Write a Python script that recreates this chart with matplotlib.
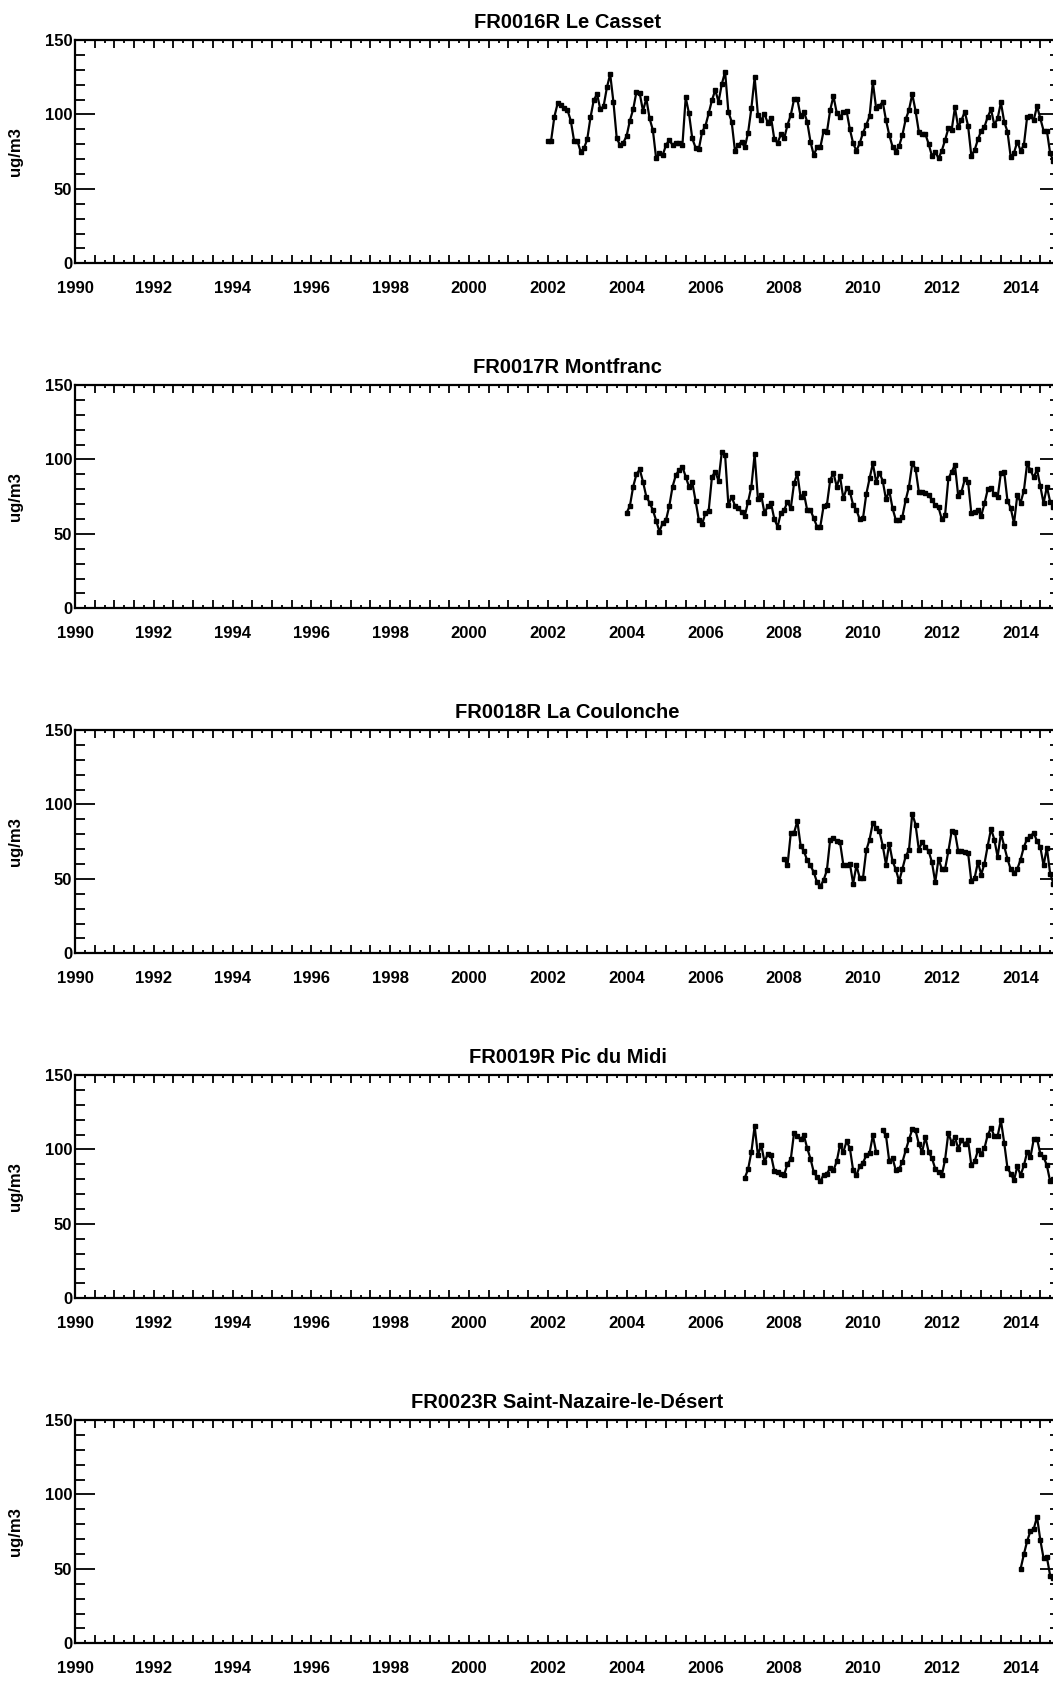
import numpy as np
import matplotlib
matplotlib.use("Agg")
import matplotlib.pyplot as plt
from matplotlib.ticker import FixedLocator, FuncFormatter

plt.rcParams['font.family'] = ['Liberation Sans', 'DejaVu Sans']
plt.rcParams['font.weight'] = 'bold'

# monthly means, ug/m3; first value is January of the start year
titles = ["FR0016R Le Casset", "FR0017R Montfranc", "FR0018R La Coulonche",
          "FR0019R Pic du Midi", "FR0023R Saint-Nazaire-le-Désert"]
start_years = [2002, 2004, 2008, 2007, 2014]

casset = [
    82.3, 82.3, 98.5, 107.4, 106.3, 104.1, 102.9, 95.8, 82.3, 82.3,
    75.0, 77.2, 83.2, 98.0, 109.6, 113.7, 103.4, 105.6, 118.1, 127.1,
    108.1, 83.9, 79.4, 81.0, 85.5, 95.8, 103.4, 115.2, 114.1, 102.3,
    110.8, 97.3, 89.5, 70.5, 73.9, 72.7, 79.4, 82.8, 79.4, 81.0,
    81.0, 79.4, 111.4, 100.7, 83.9, 77.7, 76.8, 88.4, 92.2, 100.7,
    109.6, 116.4, 108.5, 120.4, 128.7, 101.8, 95.1, 75.6, 79.4, 81.7,
    77.9, 87.7, 104.1, 124.9, 99.6, 96.2, 100.2, 94.4, 97.8, 83.2,
    81.0, 86.6, 83.9, 92.9, 99.6, 110.1, 110.1, 98.9, 101.8, 95.1,
    81.7, 72.7, 77.9, 77.9, 88.8, 87.9, 102.9, 112.3, 101.1, 98.0,
    101.8, 102.3, 90.0, 80.6, 75.6, 80.6, 87.7, 92.9, 98.9, 121.7,
    104.1, 105.6, 108.5, 96.2, 86.2, 78.3, 75.0, 78.8, 86.2, 96.7,
    102.9, 113.7, 102.5, 88.4, 86.8, 86.8, 80.1, 72.1, 75.0, 70.5,
    75.6, 82.8, 90.6, 89.5, 104.7, 91.3, 96.2, 101.8, 92.4, 72.1,
    76.1, 83.2, 89.1, 91.7, 98.5, 103.4, 92.9, 97.3, 108.1, 95.1,
    88.4, 71.2, 74.3, 81.7, 75.6, 79.4, 98.5, 98.9, 96.2, 105.6,
    97.3, 89.1, 89.1, 73.9, 68.7,
]

montfranc = [
    64.2, 68.7, 81.7, 90.1, 93.3, 85.0, 75.0, 71.0, 66.0, 58.9,
    51.5, 57.5, 59.3, 68.7, 81.7, 89.5, 92.8, 95.1, 88.4, 81.7,
    84.6, 72.3, 59.3, 56.7, 63.8, 65.6, 88.4, 91.7, 85.7, 105.1,
    102.9, 69.4, 75.0, 68.9, 67.2, 64.9, 62.0, 71.6, 81.7, 103.5,
    73.4, 76.1, 63.8, 68.7, 70.5, 59.8, 54.9, 64.2, 66.0, 71.6,
    67.2, 83.9, 90.6, 74.5, 77.2, 66.0, 66.0, 60.5, 54.9, 54.9,
    68.7, 69.4, 86.1, 91.0, 81.7, 88.8, 73.8, 80.5, 78.3, 69.4,
    66.0, 59.8, 60.5, 76.7, 87.2, 97.3, 85.0, 91.0, 85.7, 73.2,
    79.0, 67.2, 59.3, 59.3, 61.6, 72.7, 81.7, 97.3, 93.9, 78.3,
    78.3, 77.6, 76.1, 72.7, 69.4, 67.8, 59.8, 62.7, 87.2, 91.7,
    96.2, 75.4, 78.3, 86.6, 85.0, 63.8, 64.9, 66.0, 62.0, 70.5,
    79.9, 80.5, 76.7, 74.5, 91.0, 91.7, 72.3, 67.2, 57.1, 76.1,
    71.0, 79.0, 97.3, 92.8, 87.9, 93.3, 82.1, 70.5, 81.7, 71.6,
    68.3,
]

coulonche = [
    63.4, 59.0, 80.5, 80.9, 88.8, 72.4, 68.6, 62.5, 59.0, 54.5,
    47.7, 45.0, 49.1, 55.8, 76.4, 77.6, 75.3, 74.6, 59.6, 59.6,
    60.3, 46.8, 59.0, 50.7, 50.7, 69.3, 76.4, 87.7, 84.3, 82.0,
    72.4, 59.6, 73.7, 61.9, 56.3, 48.4, 56.7, 65.2, 69.3, 93.9,
    86.5, 69.7, 74.6, 71.5, 68.6, 61.2, 47.7, 63.4, 56.7, 56.7,
    68.6, 82.0, 81.4, 68.6, 68.6, 67.9, 67.5, 48.4, 50.7, 61.2,
    52.9, 60.3, 72.4, 83.6, 76.4, 64.8, 80.5, 72.0, 63.4, 56.3,
    54.0, 56.7, 63.0, 71.5, 76.9, 78.7, 80.9, 75.3, 71.5, 59.0,
    70.8, 53.6, 46.8,
]

pic_du_midi = [
    81.0, 86.6, 98.2, 115.7, 96.0, 103.2, 91.5, 97.1, 96.0, 85.5,
    84.8, 83.7, 83.0, 90.4, 93.3, 111.2, 109.0, 106.7, 109.4, 100.9,
    93.8, 84.8, 81.5, 78.5, 83.0, 83.7, 87.5, 85.9, 92.0, 103.2,
    98.2, 105.4, 100.9, 85.9, 82.6, 88.8, 91.1, 96.0, 97.6, 109.4,
    98.2, np.nan, 112.8, 109.4, 92.0, 94.2, 85.9, 87.0, 91.5, 99.3,
    106.7, 113.4, 112.8, 103.8, 98.2, 108.3, 98.2, 94.2, 87.0, 84.8,
    82.6, 93.1, 111.2, 104.5, 108.3, 100.5, 106.1, 103.8, 106.1, 89.3,
    92.0, 99.3, 97.1, 100.9, 109.9, 114.3, 109.0, 109.0, 119.5, 104.5,
    87.5, 83.7, 79.2, 88.8, 82.6, 89.3, 98.2, 94.9, 106.7, 107.2,
    97.1, 94.9, 89.3, 78.5, 79.9,
]

saint_nazaire = [50.0, 59.8, 68.7, 75.4, 76.8, 85.0, 69.4, 57.1, 57.8, 45.5, 43.7]

series = [casset, montfranc, coulonche, pic_du_midi, saint_nazaire]

W, H = 1053, 1682
fig = plt.figure(figsize=(W / 100, H / 100), dpi=100)

left_px, right_px = 75, 1060
ax_h = 223.3
tops = [40, 385, 730, 1075, 1420]


def year_label(v, pos):
    r = int(round(v))
    if abs(v - r) < 1e-6 and r % 2 == 0:
        return str(r)
    return ""


for title, y0, vals, top in zip(titles, start_years, series, tops):
    ax = fig.add_axes([left_px / W, (H - top - ax_h) / H,
                       (right_px - left_px) / W, ax_h / H])
    vals = np.array(vals, dtype=float)
    x = y0 + np.arange(len(vals)) / 12.0
    ax.plot(x, vals, color='black', lw=1.6, marker='s', ms=3.0,
            mfc='black', mec='black')

    ax.set_xlim(1990, 2015)
    ax.set_ylim(0, 150)

    ax.xaxis.set_major_locator(FixedLocator(np.arange(1990, 2015.01, 0.5)))
    ax.xaxis.set_minor_locator(FixedLocator(np.arange(1990.25, 2015, 0.5)))
    ax.xaxis.set_major_formatter(FuncFormatter(year_label))
    ax.yaxis.set_major_locator(FixedLocator([0, 50, 100, 150]))
    ax.yaxis.set_minor_locator(FixedLocator(np.arange(10, 150, 10)))

    ax.tick_params(axis='x', which='major', direction='in', length=5.5,
                   width=1.3, top=True, bottom=True, labelsize=12, pad=13)
    ax.tick_params(axis='x', which='minor', direction='in', length=2.5,
                   width=1.3, top=True, bottom=True)
    ax.tick_params(axis='y', which='major', direction='in', length=14.5,
                   width=1.3, left=True, right=True, labelsize=12, pad=2)
    ax.tick_params(axis='y', which='minor', direction='in', length=7.2,
                   width=1.3, left=True, right=True)
    for lab in ax.get_xticklabels() + ax.get_yticklabels():
        lab.set_fontweight('bold')

    for sp in ax.spines.values():
        sp.set_linewidth(1.6)

    ax.set_ylabel("ug/m3", fontsize=12, fontweight='bold')
    ax.yaxis.set_label_coords((23 - left_px) / (right_px - left_px), 0.5)

    ax.text(0.5, 1 + 12 / ax_h, title, transform=ax.transAxes,
            ha='center', va='baseline', fontsize=14.5, fontweight='bold')

fig.savefig("out.png", dpi=100, facecolor='white')
